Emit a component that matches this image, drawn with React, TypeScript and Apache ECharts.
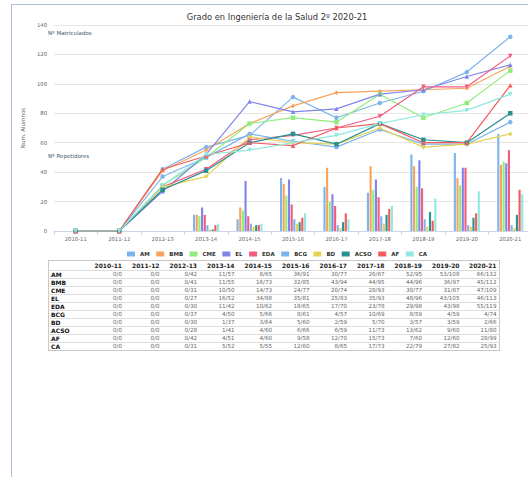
import React, { useEffect, useRef } from "react";
import * as echarts from "echarts";

const years = ["2010-11", "2011-12", "2012-13", "2013-14", "2014-15", "2015-16", "2016-17", "2017-18", "2018-19", "2019-20", "2020-21"];
const groups = ["AM", "BMB", "CME", "EL", "EDA", "BCG", "BD", "ACSO", "AF", "CA"];

// Nº Repetidores per group
const repAM = [0, 0, 0, 11, 8, 36, 30, 26, 52, 53, 66];
const repBMB = [0, 0, 0, 11, 16, 32, 43, 44, 44, 36, 45];
const repCME = [0, 0, 0, 10, 14, 24, 20, 28, 30, 31, 47];
const repEL = [0, 0, 0, 16, 34, 35, 25, 35, 48, 43, 46];
const repEDA = [0, 0, 0, 11, 10, 18, 17, 23, 29, 43, 55];
const repBCG = [0, 0, 0, 4, 5, 8, 4, 10, 8, 4, 4];
const repBD = [0, 0, 0, 1, 3, 5, 2, 5, 3, 3, 2];
const repACSO = [0, 0, 0, 1, 4, 6, 6, 11, 13, 9, 11];
const repAF = [0, 0, 0, 4, 4, 9, 12, 15, 7, 12, 28];
const repCA = [0, 0, 0, 5, 5, 12, 8, 17, 22, 27, 25];

// Nº Matriculados per group
const matAM = [0, 0, 42, 57, 65, 91, 77, 87, 95, 108, 132];
const matBMB = [0, 0, 41, 55, 73, 85, 94, 95, 96, 97, 112];
const matCME = [0, 0, 31, 50, 73, 77, 74, 93, 77, 87, 109];
const matEL = [0, 0, 27, 52, 88, 81, 83, 93, 96, 105, 113];
const matEDA = [0, 0, 30, 42, 62, 65, 70, 78, 98, 98, 119];
const matBCG = [0, 0, 37, 50, 66, 61, 57, 69, 59, 59, 74];
const matBD = [0, 0, 30, 37, 64, 60, 59, 70, 57, 59, 66];
const matACSO = [0, 0, 28, 41, 60, 66, 59, 73, 62, 60, 80];
const matAF = [0, 0, 42, 51, 60, 58, 70, 73, 60, 60, 99];
const matCA = [0, 0, 31, 52, 55, 60, 65, 73, 79, 82, 93];

const repetidores = [repAM, repBMB, repCME, repEL, repEDA, repBCG, repBD, repACSO, repAF, repCA];
const matriculados = [matAM, matBMB, matCME, matEL, matEDA, matBCG, matBD, matACSO, matAF, matCA];

const colors = ["#7cb5ec", "#f7a35c", "#90ed7d", "#8085e9", "#f15c80", "#7cb5ec", "#e4d354", "#2b908f", "#f45b5b", "#91e8e1"];
const symbols = ["circle", "diamond", "rect", "triangle", "path://M0,0L10,0L5,10Z"];

const FONT = "DejaVu Sans";

export default function App() {
  const ref = useRef<HTMLDivElement>(null);

  useEffect(() => {
    if (!ref.current) return;
    const chart = echarts.init(ref.current, undefined, { renderer: "svg" });
    const series: any[] = [];
    groups.forEach((g, i) => {
      series.push({
        name: g,
        type: "bar",
        data: repetidores[i],
        itemStyle: { color: colors[i] },
        barGap: "25%",
        barCategoryGap: "40%",
        z: 2,
      });
    });
    groups.forEach((g, i) => {
      series.push({
        name: g,
        type: "line",
        data: matriculados[i],
        symbol: symbols[i % symbols.length],
        symbolSize: 4.5,
        showSymbol: true,
        lineStyle: { width: 1.2, color: colors[i] },
        itemStyle: { color: colors[i] },
        z: 3,
      });
    });
    chart.setOption({
      animation: false,
      textStyle: { fontFamily: FONT },
      title: {
        text: "Grado en Ingeniería de la Salud 2º 2020-21",
        left: "center",
        top: 3,
        textStyle: { fontSize: 8.3, fontWeight: "normal", color: "#333333", fontFamily: FONT },
      },
      legend: {
        data: groups,
        icon: "rect",
        top: 241,
        left: "center",
        itemWidth: 8,
        itemHeight: 5,
        itemGap: 6.5,
        textStyle: { fontSize: 5.5, fontWeight: "bold", color: "#333333", fontFamily: FONT },
      },
      grid: { left: 32, top: 20, width: 488, height: 206, containLabel: false },
      xAxis: {
        type: "category",
        data: years,
        boundaryGap: true,
        axisLine: { lineStyle: { color: "#ccd6eb" } },
        axisTick: { show: true, length: 4, lineStyle: { color: "#ccd6eb" } },
        axisLabel: { fontSize: 5.3, color: "#666666", margin: 5, fontFamily: FONT },
      },
      yAxis: {
        type: "value",
        min: 0,
        max: 140,
        interval: 20,
        name: "Num. Alumnos",
        nameLocation: "middle",
        nameRotate: 90,
        nameGap: 23,
        nameTextStyle: { fontSize: 5.5, color: "#666666", fontFamily: FONT },
        axisLine: { show: false },
        axisTick: { show: false },
        splitLine: { lineStyle: { color: "#e6e6e6", width: 1 } },
        axisLabel: { fontSize: 5.3, color: "#666666", margin: 7, fontFamily: FONT },
      },
      graphic: [
        {
          type: "text",
          left: 36,
          top: 25,
          style: { text: "Nº Matriculados", fontSize: 5.5, fill: "#3E576F", fontFamily: FONT },
        },
        {
          type: "text",
          left: 36,
          top: 148,
          style: { text: "Nº Repetidores", fontSize: 5.5, fill: "#3E576F", fontFamily: FONT },
        },
      ],
      series,
    });
    return () => chart.dispose();
  }, []);

  const cellBase: React.CSSProperties = {
    padding: "0 2px",
    height: 7,
    lineHeight: "7px",
    whiteSpace: "nowrap",
    overflow: "hidden",
  };

  return (
    <div
      style={{
        position: "absolute",
        left: 11,
        top: 4,
        width: 517,
        height: 472,
        borderLeft: "1px solid #a9bddb",
        borderTop: "1px solid #a9bddb",
        overflow: "hidden",
        background: "#fff",
      }}
    >
      <div ref={ref} style={{ position: "absolute", left: 0, top: 0, width: 530, height: 256 }} />
      <table
        style={{
          position: "absolute",
          left: 36,
          top: 255,
          width: 451,
          borderCollapse: "collapse",
          tableLayout: "fixed",
          border: "1px solid #c8c8c8",
          fontFamily: FONT,
        }}
      >
        <colgroup>
          <col style={{ width: 38 }} />
          {years.map((y) => (
            <col key={y} style={{ width: 37.5 }} />
          ))}
        </colgroup>
        <thead>
          <tr>
            <th style={{ ...cellBase, height: 9, lineHeight: "9px" }}></th>
            {years.map((y) => (
              <th
                key={y}
                style={{ ...cellBase, height: 9, lineHeight: "9px", textAlign: "right", fontSize: 6, fontWeight: "bold", color: "#222" }}
              >
                {y}
              </th>
            ))}
          </tr>
        </thead>
        <tbody>
          {groups.map((g, i) => (
            <tr key={g} style={{ borderTop: "1px solid #dcdcdc" }}>
              <td style={{ ...cellBase, textAlign: "left", fontSize: 6, fontWeight: "bold", color: "#111" }}>{g}</td>
              {years.map((y, j) => (
                <td key={y} style={{ ...cellBase, textAlign: "right", fontSize: 5.6, color: "#666" }}>
                  {repetidores[i][j] + "/" + matriculados[i][j]}
                </td>
              ))}
            </tr>
          ))}
        </tbody>
      </table>
    </div>
  );
}
